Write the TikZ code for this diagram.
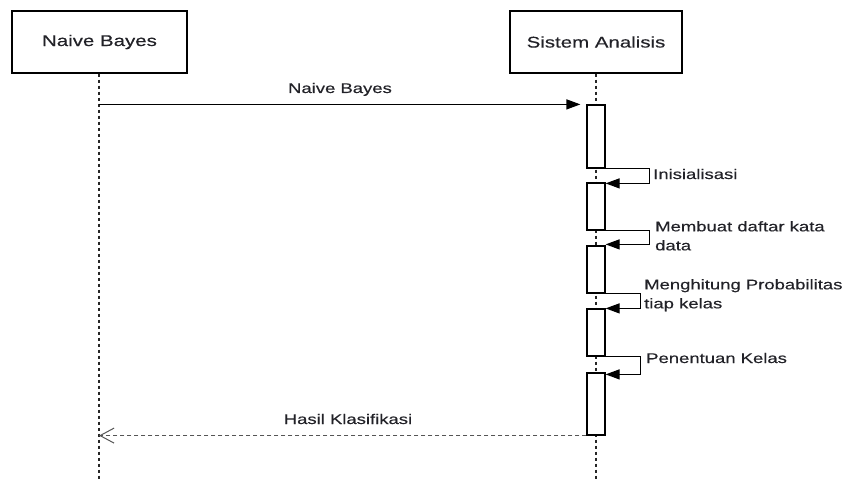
\documentclass[tikz,border=0pt]{standalone}
\usepackage{fontspec}
\setmainfont{Liberation Sans}[FakeStretch=1.32,FakeBold=0.3]
\usetikzlibrary{arrows.meta}
\definecolor{txt}{HTML}{222228}
\definecolor{retc}{HTML}{555555}
\begin{document}
\begin{tikzpicture}[x=1pt,y=-1pt,
  actor/.style={draw=black,line width=1.3pt,minimum width=172pt,minimum height=62pt,inner sep=0pt,
    font=\fontsize{15.5}{18}\selectfont,text=txt},
  bar/.style={draw=black,line width=1.2pt,fill=white,minimum width=18pt,inner sep=0pt},
  lifeline/.style={draw=black!85,line width=1.2pt,dash pattern=on 3.5pt off 2.5pt},
  msg/.style={draw=black,line width=1.2pt,-{Triangle[length=14pt,width=10pt]}},
  selfmsg/.style={draw=black,line width=1.2pt,-{Triangle[length=14pt,width=10pt]}},
  retmsg/.style={draw=retc,line width=1.2pt,dash pattern=on 4pt off 3pt,-{Straight Barb[length=14pt,width=15pt,line width=1pt]}},
  lbl/.style={font=\fontsize{14}{19}\selectfont,text=txt,inner sep=0pt,align=left}]
\useasboundingbox (0,0) rectangle (845,481);
% actors
\node[actor,minimum width=175pt] (a1) at (99.5,42) {Naive Bayes};
\node[actor] (a2) at (596,42) {Sistem Analisis};
\coordinate (e1) at (99,481);
\coordinate (e2) at (596,481);
\draw[lifeline] (a1.south -| e1) -- (e1);
\draw[lifeline] (a2.south) -- (e2);
% activation bars
\node[bar,minimum height=63pt] (b1) at (596,136.5) {};
\node[bar,minimum height=47pt] (b2) at (596,206.5) {};
\node[bar,minimum height=47pt] (b3) at (596,269.5) {};
\node[bar,minimum height=47pt] (b4) at (596,332.5) {};
\node[bar,minimum height=62pt] (b5) at (596,404) {};
% message 1
\draw[msg,shorten >=6pt] (e1 |- b1.north west) -- (b1.north west);
\node[lbl,anchor=base] (t1) at (340,93) {Naive Bayes};
% self messages
\draw[selfmsg] (b1.south east) -- ++(44,0) |- ([yshift=-1pt]b2.north east);
\draw[selfmsg] (b2.south east) -- ++(44,0) |- ([yshift=1pt]b3.north east);
\draw[selfmsg] (b3.south east) -- ++(35,0) |- (b4.north east);
\draw[selfmsg] (b4.south east) -- ++(35,0) |- ([yshift=-2pt]b5.north east);
\node[lbl,anchor=base west] (t2) at (653,179) {Inisialisasi};
\node[lbl,anchor=north west] (t3) at (655,221) {Membuat daftar kata\\data};
\node[lbl,anchor=north west] (t4) at (644,279) {Menghitung Probabilitas\\tiap kelas};
\node[lbl,anchor=base west] (t5) at (646,363) {Penentuan Kelas};
% return
\draw[retmsg] (b5.south west) -- (b5.south west -| e1);
\node[lbl,anchor=base] (t6) at (348,424) {Hasil Klasifikasi};
\end{tikzpicture}
\end{document}
